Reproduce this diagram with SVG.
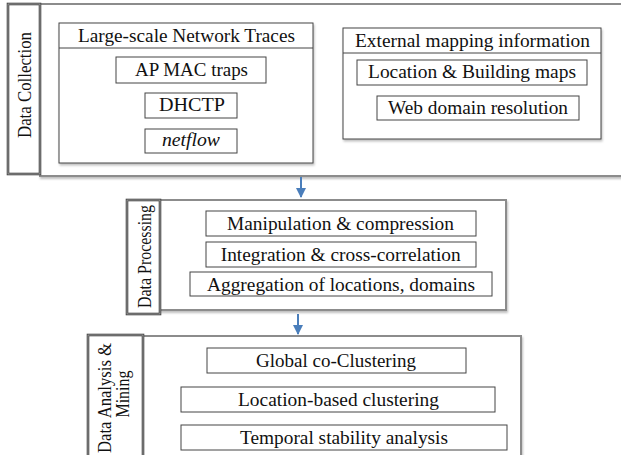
<svg xmlns="http://www.w3.org/2000/svg" width="621" height="455" viewBox="0 0 621 455">
<defs>
<style>
text{font-family:"Liberation Serif","Times New Roman","DejaVu Serif",serif;font-size:18px;fill:#111;text-anchor:middle}
.main{fill:#fff;stroke:#8c8c8c;stroke-width:2}
.lab{fill:#fff;stroke:#444;stroke-width:2.6}
.labin{fill:none;stroke:#aaa;stroke-width:0.8}
.box{fill:#fff;stroke:#444;stroke-width:1}
.conn{stroke:#4a7ebb;stroke-width:2;fill:none}
</style>
<filter id="sh" x="-5%" y="-5%" width="110%" height="115%">
<feDropShadow dx="1" dy="2" stdDeviation="1.2" flood-color="#000" flood-opacity="0.25"/>
</filter>
<marker id="ah" viewBox="0 0 10 10" refX="9" refY="5" markerWidth="5" markerHeight="5" orient="auto">
<path d="M0,0 L10,5 L0,10 Z" fill="#4a7ebb"/>
</marker>
</defs>

<g id="data-collection">
<rect class="main" x="40" y="4" width="590" height="172" filter="url(#sh)"/>
<rect class="lab" x="8" y="4" width="32" height="170"/>
<rect class="labin" x="8" y="4" width="32" height="170"/>
<text transform="translate(31,85) rotate(-90)" textLength="106" lengthAdjust="spacingAndGlyphs">Data Collection</text>
</g>

<g id="network-traces">
<rect class="box" x="59" y="23" width="254" height="140" filter="url(#sh)"/>
<line x1="59" y1="48" x2="313" y2="48" stroke="#444" stroke-width="1"/>
<text x="186.5" y="42" textLength="217" lengthAdjust="spacingAndGlyphs">Large-scale Network Traces</text>
</g>
<g id="ap-mac"><rect class="box" x="116" y="57" width="150" height="26"/><text x="191.5" y="76" textLength="113" lengthAdjust="spacingAndGlyphs">AP MAC traps</text></g>
<g id="dhctp"><rect class="box" x="145" y="93" width="92" height="25"/><text x="192" y="111" textLength="66" lengthAdjust="spacingAndGlyphs">DHCTP</text></g>
<g id="netflow"><rect class="box" x="145" y="129" width="92" height="24"/><text x="191" y="146" font-style="italic" textLength="58" lengthAdjust="spacingAndGlyphs">netflow</text></g>

<g id="external-mapping">
<rect class="box" x="343" y="28" width="258" height="111" filter="url(#sh)"/>
<line x1="343" y1="53" x2="601" y2="53" stroke="#444" stroke-width="1"/>
<text x="472.5" y="47" textLength="235" lengthAdjust="spacingAndGlyphs">External mapping information</text>
</g>
<g id="location-maps"><rect class="box" x="357" y="60" width="230" height="25"/><text x="472" y="78" textLength="208" lengthAdjust="spacingAndGlyphs">Location &amp; Building maps</text></g>
<g id="web-domain"><rect class="box" x="377" y="96" width="202" height="24"/><text x="478" y="114" textLength="180" lengthAdjust="spacingAndGlyphs">Web domain resolution</text></g>

<g id="connectors">
<line class="conn" x1="301" y1="177" x2="301" y2="197" marker-end="url(#ah)"/>
<line class="conn" x1="298" y1="314" x2="298" y2="334" marker-end="url(#ah)"/>
</g>

<g id="data-processing">
<rect class="main" x="160" y="200" width="346" height="110" filter="url(#sh)"/>
<rect class="lab" x="127" y="200" width="33" height="114"/>
<rect class="labin" x="127" y="200" width="33" height="114"/>
<text transform="translate(151,256.5) rotate(-90)" textLength="103" lengthAdjust="spacingAndGlyphs">Data Processing</text>
</g>
<g id="manipulation"><rect class="box" x="206" y="211" width="270" height="25"/><text x="340.5" y="230" textLength="227" lengthAdjust="spacingAndGlyphs">Manipulation &amp; compression</text></g>
<g id="integration"><rect class="box" x="206" y="242" width="270" height="25"/><text x="340.7" y="261" textLength="240" lengthAdjust="spacingAndGlyphs">Integration &amp; cross-correlation</text></g>
<g id="aggregation"><rect class="box" x="190" y="272" width="302" height="24"/><text x="341" y="290.5" textLength="268" lengthAdjust="spacingAndGlyphs">Aggregation of locations, domains</text></g>

<g id="data-analysis">
<rect class="main" x="143" y="336" width="378" height="125" filter="url(#sh)"/>
<rect class="lab" x="88" y="335" width="55" height="125"/>
<rect class="labin" x="88" y="335" width="55" height="125"/>
<text transform="translate(111,398) rotate(-90)" textLength="110" lengthAdjust="spacingAndGlyphs">Data Analysis &amp;</text>
<text transform="translate(129,394) rotate(-90)" textLength="47" lengthAdjust="spacingAndGlyphs">Mining</text>
</g>
<g id="global-coclustering"><rect class="box" x="207" y="348" width="259" height="25"/><text x="336" y="366.5" textLength="160" lengthAdjust="spacingAndGlyphs">Global co-Clustering</text></g>
<g id="location-clustering"><rect class="box" x="181" y="387" width="314" height="25"/><text x="338.5" y="405.5" textLength="201" lengthAdjust="spacingAndGlyphs">Location-based clustering</text></g>
<g id="temporal"><rect class="box" x="181" y="425" width="326" height="25"/><text x="344" y="443.5" textLength="208" lengthAdjust="spacingAndGlyphs">Temporal stability analysis</text></g>
</svg>
